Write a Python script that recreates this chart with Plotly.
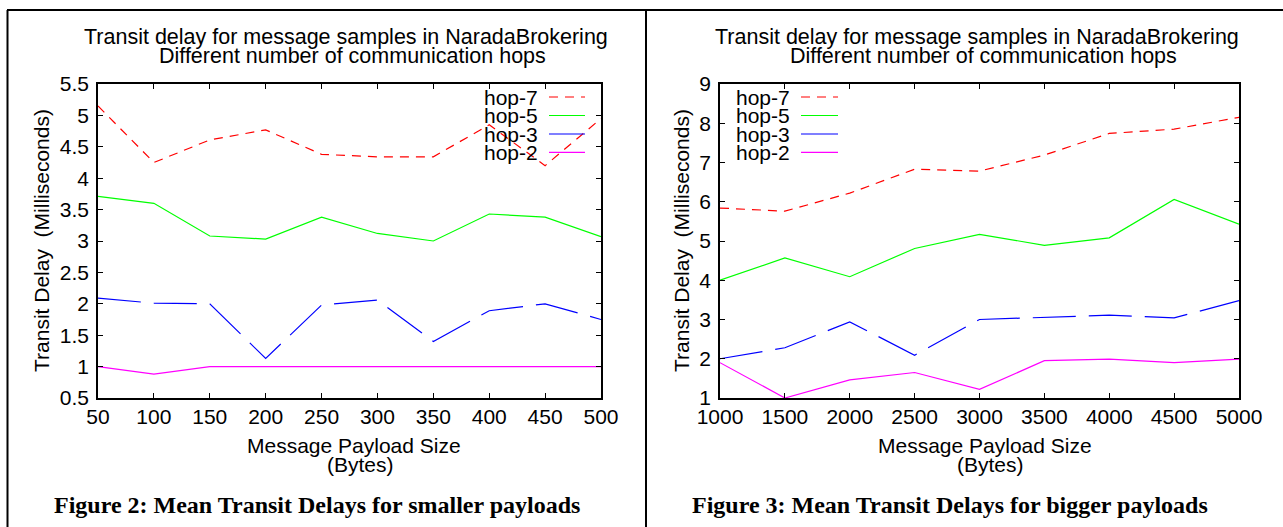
import plotly.graph_objects as go

W, H = 1283, 527

# ---------------- data ----------------
series_names = ["hop-7", "hop-5", "hop-3", "hop-2"]

x_small = [50, 100, 150, 200, 250, 300, 350, 400, 450, 500]
small_hop7 = [5.15, 4.25, 4.61, 4.77, 4.38, 4.34, 4.34, 4.85, 4.20, 4.95]
small_hop5 = [3.71, 3.60, 3.08, 3.03, 3.38, 3.12, 3.00, 3.43, 3.38, 3.07]
small_hop3 = [2.09, 2.01, 2.00, 1.13, 1.98, 2.06, 1.40, 1.89, 2.00, 1.75]
small_hop2 = [1.00, 0.88, 1.00, 1.00, 1.00, 1.00, 1.00, 1.00, 1.00, 1.00]

x_big = [1000, 1500, 2000, 2500, 3000, 3500, 4000, 4500, 5000]
big_hop7 = [5.84, 5.76, 6.22, 6.83, 6.78, 7.19, 7.74, 7.85, 8.15]
big_hop5 = [4.00, 4.57, 4.09, 4.81, 5.17, 4.89, 5.08, 6.06, 5.43]
big_hop3 = [2.00, 2.28, 2.94, 2.09, 3.00, 3.06, 3.11, 3.04, 3.48]
big_hop2 = [1.90, 1.00, 1.46, 1.65, 1.22, 1.95, 1.99, 1.90, 1.99]

title_line1 = "Transit delay for message samples in NaradaBrokering"
title_line2 = "Different number of communication hops"
y_title = "Transit Delay  (Milliseconds)"
x_title1 = "Message Payload Size"
x_title2 = "(Bytes)"
caption_left = "Figure 2: Mean Transit Delays for smaller payloads"
caption_right = "Figure 3: Mean Transit Delays for bigger payloads"

# ---------------- styles ----------------
colors = ["#ff0000", "#00ff00", "#0000ff", "#ff00ff"]
dashes = ["9px,7px", "solid", "43px,13px", "solid"]
SANS = "Liberation Sans, Arial, sans-serif"
SERIF = "Liberation Serif, Times New Roman, serif"
FS = 21


def px(x):
    return x / W


def py(y):
    return 1 - y / H


fig = go.Figure()

small_series = [small_hop7, small_hop5, small_hop3, small_hop2]
big_series = [big_hop7, big_hop5, big_hop3, big_hop2]

for name, ys, c, d in zip(series_names, small_series, colors, dashes):
    fig.add_trace(go.Scatter(x=x_small, y=ys, mode="lines", name=name,
                             line=dict(color=c, width=1.2, dash=d),
                             xaxis="x", yaxis="y", showlegend=False))
for name, ys, c, d in zip(series_names, big_series, colors, dashes):
    fig.add_trace(go.Scatter(x=x_big, y=ys, mode="lines", name=name,
                             line=dict(color=c, width=1.2, dash=d),
                             xaxis="x2", yaxis="y2", showlegend=False))

axis_common = dict(showline=True, linecolor="black", linewidth=1.5,
                   mirror="ticks", ticks="inside", ticklen=5, tickwidth=1,
                   tickcolor="black", showgrid=False, zeroline=False,
                   tickfont=dict(family=SANS, size=FS, color="black"),
                   automargin=False)

ydom = [py(398), py(84)]
fig.update_layout(
    width=W, height=H, margin=dict(l=0, r=0, t=0, b=0), autosize=False,
    paper_bgcolor="white", plot_bgcolor="white",
    xaxis=dict(domain=[px(98), px(601)], range=[50, 500],
               tickvals=x_small, anchor="y", ticklabelstandoff=-1, **axis_common),
    yaxis=dict(domain=ydom, range=[0.5, 5.5], dtick=0.5, tick0=0.5,
               anchor="x", ticklabelstandoff=3, **axis_common),
    xaxis2=dict(domain=[px(720), px(1239)], range=[1000, 5000],
                tickvals=x_big, anchor="y2", ticklabelstandoff=-1, **axis_common),
    yaxis2=dict(domain=ydom, range=[1, 9], dtick=1, tick0=1,
                anchor="x2", ticklabelstandoff=3, **axis_common),
)

ann = []


def text(x, y, t, size=FS, family=SANS, angle=0, xanchor="center"):
    ann.append(dict(x=px(x), y=py(y), xref="paper", yref="paper", text=t,
                    showarrow=False, xanchor=xanchor, yanchor="middle",
                    textangle=angle,
                    font=dict(family=family, size=size, color="black")))


# titles
text(346, 37, title_line1, size=21.5)
text(352, 56, title_line2, size=21.5)
text(977, 37, title_line1, size=21.5)
text(983, 56, title_line2, size=21.5)
# y titles
text(42, 241, y_title, angle=-90)
text(682, 241, y_title, angle=-90)
# x titles
text(354, 445, x_title1)
text(360, 464, x_title2)
text(985, 445, x_title1)
text(990, 464, x_title2)
# captions
text(317, 505, "<b>" + caption_left + "</b>", size=24, family=SERIF)
text(950, 505, "<b>" + caption_right + "</b>", size=24, family=SERIF)

# legends (text to the left of the sample line, gnuplot style)
shapes = []
rows = [97, 115.5, 134, 152.3]
for (tx, lx0, lx1) in [(540, 549, 585), (792, 801, 838)]:
    for name, c, d, ry in zip(series_names, colors, dashes, rows):
        text(tx, ry, name, xanchor="right")
        shapes.append(dict(type="line", xref="paper", yref="paper",
                           x0=px(lx0), x1=px(lx1), y0=py(ry), y1=py(ry),
                           line=dict(color=c, width=1.2,
                                     dash=("solid" if d == "43px,13px" else d))))

# page frame
frame = dict(color="black", width=2)
shapes.append(dict(type="line", xref="paper", yref="paper",
                   x0=px(7), x1=1, y0=py(10), y1=py(10), line=frame))
shapes.append(dict(type="line", xref="paper", yref="paper",
                   x0=px(7.5), x1=px(7.5), y0=py(10), y1=0, line=frame))
shapes.append(dict(type="line", xref="paper", yref="paper",
                   x0=px(646), x1=px(646), y0=py(10), y1=0, line=frame))

fig.update_layout(annotations=ann, shapes=shapes)

fig.write_html("out.html", config={"displayModeBar": False},
               post_script="document.body.style.margin='0';document.body.style.overflow='hidden';")
